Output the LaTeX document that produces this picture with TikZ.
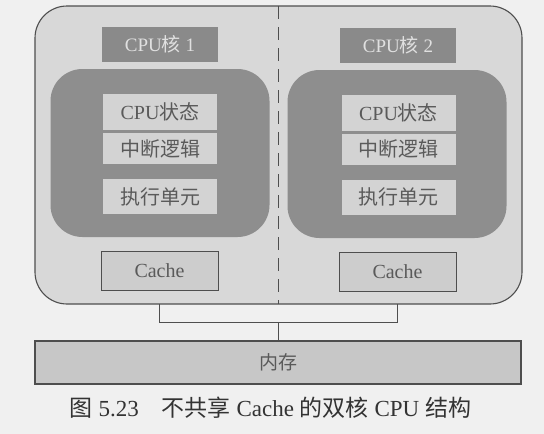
\documentclass[tikz,border=0pt]{standalone}
\usepackage{fontspec}
\setmainfont{Liberation Serif}
\newfontfamily\cjk{Noto Sans CJK SC}
\newcommand{\zh}[1]{{\cjk #1}}

\definecolor{paper}{HTML}{F0F0F0}
\definecolor{chipfill}{HTML}{D8D8D8}
\definecolor{corefill}{HTML}{8E8E8E}
\definecolor{tagfill}{HTML}{8A8A8A}
\definecolor{unitfill}{HTML}{D3D3D3}
\definecolor{cachefill}{HTML}{CDCDCD}
\definecolor{memfill}{HTML}{C7C7C7}
\definecolor{inkline}{HTML}{4E4E4E}
\definecolor{inktext}{HTML}{5A5A5A}

\tikzset{
  x=1pt, y=-1pt,
  chipbox/.style={draw=inkline, line width=1.1pt, fill=chipfill, rounded corners=32pt,
    inner sep=0pt, outer sep=0pt, minimum width=487pt, minimum height=298pt},
  corebox/.style={fill=corefill, rounded corners=32pt, inner sep=0pt, outer sep=0pt,
    minimum width=219pt, minimum height=168pt},
  tagbox/.style={fill=tagfill, text=white!88!black, inner sep=0pt, outer sep=0pt,
    minimum width=116pt, minimum height=35pt, font=\fontsize{19}{22}\selectfont},
  unitbox/.style={fill=unitfill, text=inktext, inner sep=0pt, outer sep=0pt,
    minimum width=114pt, font=\fontsize{20}{24}\selectfont},
  cachebox/.style={draw=inkline, line width=1pt, fill=cachefill, text=inktext,
    inner sep=0pt, outer sep=0pt, minimum width=117pt, minimum height=39pt,
    font=\fontsize{20}{24}\selectfont},
  membox/.style={draw=inkline, line width=1.1pt, fill=memfill, text=inktext,
    inner sep=0pt, outer sep=0pt, minimum width=486pt, minimum height=43pt,
    font=\fontsize{19}{22}\selectfont},
  wire/.style={draw=inkline, line width=0.9pt},
  divider/.style={draw=inkline, line width=1pt, dash pattern=on 13pt off 8pt},
  caption/.style={text=black!80, inner sep=0pt, font=\fontsize{23}{27}\selectfont}
}

\begin{document}
\begin{tikzpicture}
  % page
  \fill[paper] (0,0) rectangle (544,434);
  \useasboundingbox (0,0) rectangle (544,434);

  % chip outline and the split between the two cores
  \node[chipbox] (chip) at (278.5,155) {};
  \draw[divider] (chip.north) -- (chip.south);

  % core 1
  \node[corebox] (coreL) at (160,153) {};
  \node[tagbox] (tagL) at (160,44.5) {CPU\zh{核} 1};
  \node[unitbox, minimum height=36pt] (stateL) at (160,112) {CPU\zh{状态}};
  \node[unitbox, minimum height=31pt] (intrL) at (160,148.5) {\zh{中断逻辑}};
  \node[unitbox, minimum height=35pt] (execL) at (160,196.5) {\zh{执行单元}};
  \node[cachebox] (cacheL) at (159.5,270.5) {Cache};

  % core 2
  \node[corebox] (coreR) at (397,154) {};
  \node[tagbox] (tagR) at (398,45) {CPU\zh{核} 2};
  \node[unitbox, minimum height=36pt] (stateR) at (398.5,112.5) {CPU\zh{状态}};
  \node[unitbox, minimum height=31pt] (intrR) at (398.5,149) {\zh{中断逻辑}};
  \node[unitbox, minimum height=35pt] (execR) at (398.5,197) {\zh{执行单元}};
  \node[cachebox] (cacheR) at (397.5,271.5) {Cache};

  % main memory
  \node[membox] (mem) at (278,362.5) {\zh{内存}};

  % bus from both cores down to memory
  \path (chip.south -| cacheL) ++(0,18) coordinate (tapL);
  \draw[wire] (chip.south -| cacheL) -- (tapL) -- (tapL -| cacheR) -- (chip.south -| cacheR);
  \draw[wire] (tapL -| mem.north) -- (mem.north);

  % figure caption
  \node[caption] (cap) at (270.5,408) {\zh{图} 5.23\hspace{1em}\zh{不共享} Cache \zh{的双核} CPU \zh{结构}};
\end{tikzpicture}
\end{document}
